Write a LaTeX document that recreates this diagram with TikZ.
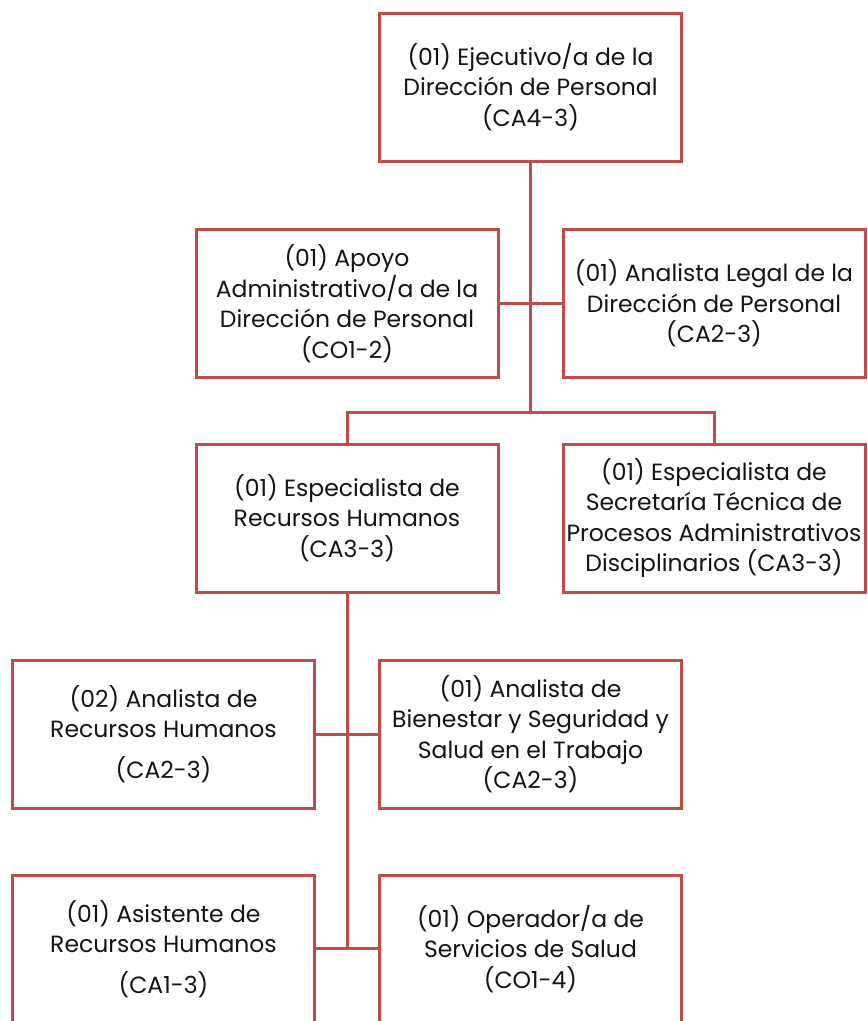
\documentclass[tikz,border=0pt]{standalone}
\usepackage{fontspec}
\setmainfont{Poppins}
\definecolor{orgred}{RGB}{190,76,73}
\begin{document}
\begin{tikzpicture}[x=1pt,y=-1pt,
  post/.style={draw=orgred, line width=3pt, minimum width=302pt, minimum height=148pt,
    align=center, inner sep=0pt, text=black!92, font=\fontsize{23.5}{30.5}\selectfont},
  link/.style={draw=orgred, line width=3pt}]
\useasboundingbox (0,0) rectangle (868,1021);

% positions
\node[post] (eje) at (530.5,87)  {(01) Ejecutivo/a de la\\Dirección de Personal\\(CA4-3)};
\node[post] (apo) at (347,303.5) {(01) Apoyo\\Administrativo/a de la\\Dirección de Personal\\(CO1-2)};
\node[post] (leg) at (714,303.5) {(01) Analista Legal de la\\Dirección de Personal\\(CA2-3)};
\node[post] (esp) at (347,518)   {(01) Especialista de\\Recursos Humanos\\(CA3-3)};
\node[post] (sec) at (714,518)   {(01) Especialista de\\Secretaría Técnica de\\Procesos Administrativos\\Disciplinarios (CA3-3)};
\node[post] (ana) at (163.5,734) {(02) Analista de\\Recursos Humanos\\[10pt](CA2-3)};
\node[post] (bie) at (530.5,734) {(01) Analista de\\Bienestar y Seguridad y\\Salud en el Trabajo\\(CA2-3)};
\node[post] (asi) at (163.5,949) {(01) Asistente de\\Recursos Humanos\\[10pt](CA1-3)};
\node[post] (ope) at (530.5,949) {(01) Operador/a de\\Servicios de Salud\\(CO1-4)};

% junction points
\coordinate (j1) at (530.5,412);
\coordinate (j2) at (347,948);

% connectors
\draw[link] (eje.south) -- (j1);
\draw[link] (apo.east) -- (leg.west);
\draw[link] (esp.north) |- (j1) -| (sec.north);
\draw[link] (esp.south) -- (j2);
\draw[link] (ana.east) -- (bie.west);
\draw[link] (asi.east |- j2) -- (ope.west |- j2);
\end{tikzpicture}
\end{document}
